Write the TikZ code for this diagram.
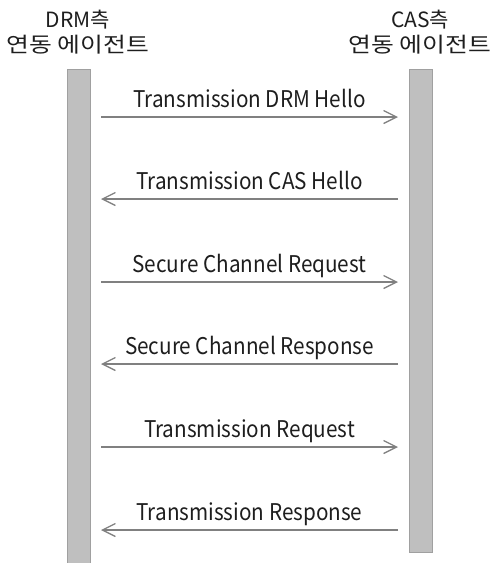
\documentclass[tikz,border=0pt]{standalone}
\usepackage{fontspec}
\setmainfont{Noto Sans CJK KR}
\newfontfamily\labfont[FakeStretch=0.9]{Noto Sans CJK KR}
\newfontfamily\korfont[FakeStretch=1.18]{Noto Sans CJK KR}
\usetikzlibrary{arrows.meta}
\definecolor{barfill}{RGB}{191,191,191}
\definecolor{barline}{RGB}{160,160,160}
\definecolor{arrowc}{RGB}{128,128,128}
\definecolor{txt}{RGB}{30,30,30}
\begin{document}
\begin{tikzpicture}[x=1pt,y=-1pt,
  lifebar/.style={draw=barline,fill=barfill,line width=0.8pt},
  msg/.style={draw=arrowc,line width=1.3pt,-{Straight Barb[length=13pt,width=13pt,line width=1.3pt]}},
  msglabel/.style={midway,anchor=base,yshift=10pt,text=txt,font=\labfont\fontsize{23}{26}\selectfont,inner sep=0pt},
  header/.style={anchor=base,text=txt,font=\fontsize{21}{24}\selectfont,inner sep=0pt},
  headerk/.style={anchor=base,text=txt,font=\korfont\fontsize{21}{24}\selectfont,inner sep=0pt}]
\useasboundingbox (0,0) rectangle (494,563);
\path[lifebar] (67,69) rectangle (90,565);
\path[lifebar] (409,69) rectangle (432,552);
\node[header] (hl1) at (78,27) {DRM측};
\node[headerk] (hl2) at (78,52) {연동 에이전트};
\node[header] (hr1) at (420,27) {CAS측};
\node[headerk] (hr2) at (420,52) {연동 에이전트};
\foreach \i/\y in {1/117,2/199,3/282,4/364,5/447,6/530}{
  \coordinate (l\i) at (101,\y);
  \coordinate (r\i) at (398,\y);
}
\draw[msg] (l1) -- node[msglabel] (t1) {Transmission DRM Hello} (r1);
\draw[msg] (r2) -- node[msglabel] (t2) {Transmission CAS Hello} (l2);
\draw[msg] (l3) -- node[msglabel] (t3) {Secure Channel Request} (r3);
\draw[msg] (r4) -- node[msglabel] (t4) {Secure Channel Response} (l4);
\draw[msg] (l5) -- node[msglabel] (t5) {Transmission Request} (r5);
\draw[msg] (r6) -- node[msglabel] (t6) {Transmission Response} (l6);
\end{tikzpicture}
\end{document}
